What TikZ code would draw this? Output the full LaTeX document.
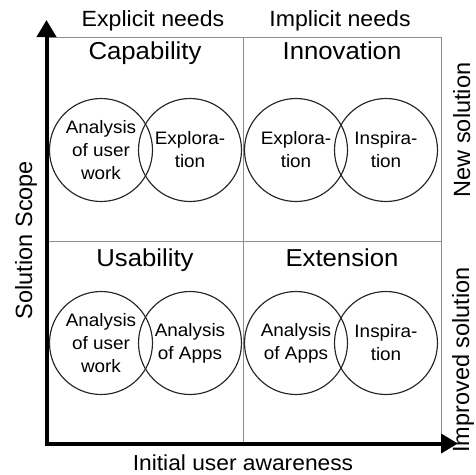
\documentclass[tikz,border=0pt]{standalone}
\usepackage{fontspec}
\setmainfont{Liberation Sans}[FakeStretch=1.05]
\newfontfamily\sidefont{Liberation Sans}
\usetikzlibrary{arrows.meta}

\begin{document}
\begin{tikzpicture}[x=1pt,y=-1pt,
  gridline/.style={draw=black!45, line width=0.9pt},
  axis/.style={line width=4pt, miter limit=10,
    arrows={Triangle[length=17pt,width=19pt]-Triangle[length=17pt,width=19pt]}},
  venn/.style={circle, draw=black!85, line width=1.15pt, minimum size=103pt,
    inner sep=0pt, align=center, font=\fontsize{18}{23}\selectfont},
  quadtitle/.style={anchor=base, font=\fontsize{24.5}{29}\selectfont},
  header/.style={anchor=base, font=\fontsize{22}{26}\selectfont},
  sidelabel/.style={anchor=base, rotate=90, inner sep=0pt,
    font=\sidefont\fontsize{23.5}{28}\selectfont},
  bottomlabel/.style={anchor=base, font=\fontsize{21.7}{26}\selectfont}]
\useasboundingbox (0,0) rectangle (475,475);

% grid corners
\coordinate (tl) at (49,37);
\coordinate (tm) at (243,37);
\coordinate (tr) at (441,37);
\coordinate (ml) at (49,241);
\coordinate (mr) at (441,241);
\coordinate (bm) at (243,443.5);
\coordinate (br) at (441,443.5);

% quadrant grid
\draw[gridline] (tl) -- (tr) -- (br);
\draw[gridline] (tm) -- (bm);
\draw[gridline] (ml) -- (mr);

% axes
\coordinate (ytip) at (46.5,20);
\coordinate (origin) at (46.5,443.5);
\coordinate (xtip) at (458,443.5);
\draw[axis] (ytip) -- (origin) -- (xtip);

% column headers
\node[header] (explicit) at (153,26) {Explicit needs};
\node[header] (implicit) at (340,26) {Implicit needs};

% quadrant titles
\node[quadtitle] (capability) at (145,59) {Capability};
\node[quadtitle] (innovation) at (342,59) {Innovation};
\node[quadtitle] (usability) at (145,266) {Usability};
\node[quadtitle] (extension) at (342,266) {Extension};

% Capability
\node[venn] (c1) at (101,150) {Analysis\\of user\\work};
\node[venn] (c2) at (190,150) {Explora-\\tion};
% Innovation
\node[venn] (i1) at (296,150) {Explora-\\tion};
\node[venn] (i2) at (386,150) {Inspira-\\tion};
% Usability
\node[venn] (u1) at (101,343) {Analysis\\of user\\work};
\node[venn] (u2) at (190,343) {Analysis\\of Apps};
% Extension
\node[venn] (e1) at (296,343) {Analysis\\of Apps};
\node[venn] (e2) at (386,343) {Inspira-\\tion};

% axis and row labels
\node[sidelabel] (scope) at (32,240) {Solution Scope};
\node[sidelabel] (newsol) at (470,130) {New solution};
\node[sidelabel] (impsol) at (469,360) {Improved solution};
\node[bottomlabel] (awareness) at (243,470) {Initial user awareness};
\end{tikzpicture}
\end{document}
